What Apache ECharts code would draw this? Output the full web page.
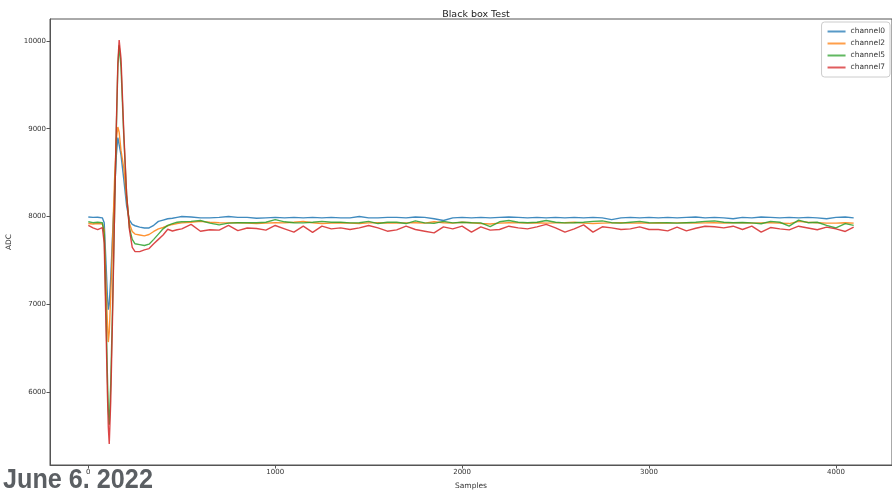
<!DOCTYPE html>
<html>
<head>
<meta charset="utf-8">
<title>Black box Test</title>
<script src="https://cdn.jsdelivr.net/npm/echarts@6/dist/echarts.min.js"></script>
<style>
    html, body { margin: 0; padding: 0; background: #fff; }
    #chart { width: 892px; height: 491px; }
</style>
</head>
<body>
<div id="chart"></div>
<script>
// sample index (x axis)
const samples = [
    0, 25, 50, 75, 85, 95, 102, 107, 112, 120,
    130, 140, 150, 158, 165, 175, 190, 205, 220, 235,
    250, 275, 300, 325, 350, 375, 400, 425, 450, 475,
    500,
    550, 600, 650, 700, 750, 800, 850, 900, 950, 1000,
    1050, 1100, 1150, 1200, 1250, 1300, 1350, 1400, 1450, 1500,
    1550, 1600, 1650, 1700, 1750, 1800, 1850, 1900, 1950, 2000,
    2050, 2100, 2150, 2200, 2250, 2300, 2350, 2400, 2450, 2500,
    2550, 2600, 2650, 2700, 2750, 2800, 2850, 2900, 2950, 3000,
    3050, 3100, 3150, 3200, 3250, 3300, 3350, 3400, 3450, 3500,
    3550, 3600, 3650, 3700, 3750, 3800, 3850, 3900, 3950, 4000,
    4050, 4095
];

// ADC readings per channel, same length as samples
const channel0 = [
    7995, 7990, 7992, 7985, 7930, 7450, 7100, 6940, 7000, 7300,
    7800, 8250, 8700, 8900, 8900, 8700, 8420, 8120, 7960, 7910,
    7895, 7880, 7870, 7870, 7900, 7945, 7960, 7975, 7980, 7990,
    8000,
    7995, 7985, 7985, 7990, 8000, 7990, 7990, 7980, 7985, 7990,
    7985, 7990, 7985, 7990, 7985, 7990, 7985, 7985, 8000, 7985,
    7985, 7990, 7990, 7985, 7995, 7990, 7975, 7955, 7985, 7990,
    7985, 7990, 7985, 7990, 7995, 7990, 7985, 7990, 7985, 7990,
    7985, 7990, 7985, 7990, 7985, 7965, 7985, 7990, 7985, 7990,
    7985, 7990, 7985, 7990, 7995, 7985, 7990, 7985, 7975, 7990,
    7985, 7995, 7990, 7985, 7990, 7985, 7990, 7985, 7975, 7990,
    7995, 7985
];
const channel2 = [
    7920, 7915, 7920, 7915, 7850, 7200, 6800, 6570, 6680, 7100,
    7750, 8400, 8880, 9020, 8960, 8750, 8550, 8200, 7920, 7830,
    7800, 7790, 7780, 7795, 7830, 7860, 7875, 7895, 7910, 7920,
    7928,
    7935, 7945, 7935, 7930, 7928, 7930, 7925, 7920, 7925, 7930,
    7928, 7935, 7945, 7930, 7920, 7925, 7930, 7925, 7920, 7928,
    7930, 7925, 7925, 7928, 7930, 7925, 7940, 7930, 7925, 7935,
    7930, 7920, 7915, 7925, 7930, 7928, 7925, 7930, 7925, 7928,
    7930, 7935, 7925, 7920, 7925, 7928, 7930, 7925, 7928, 7925,
    7930, 7925, 7928, 7930, 7925, 7928, 7930, 7925, 7928, 7930,
    7925, 7928, 7930, 7925, 7920, 7945, 7935, 7930, 7925, 7925,
    7930, 7925
];
const channel5 = [
    7940, 7930, 7935, 7930, 7800, 6900, 6200, 5800, 5630, 6100,
    7000, 8000, 9000, 9700, 9950, 9700, 8900, 8250, 7870, 7740,
    7690, 7680, 7670, 7685, 7740, 7800, 7860, 7900, 7920, 7935,
    7940,
    7945, 7955, 7925, 7905, 7925, 7930, 7930, 7930, 7935, 7965,
    7940, 7930, 7928, 7935, 7945, 7935, 7935, 7928, 7930, 7945,
    7920, 7935, 7935, 7920, 7950, 7928, 7922, 7945, 7928, 7935,
    7930, 7928, 7885, 7940, 7955, 7935, 7930, 7935, 7955, 7935,
    7928, 7930, 7935, 7945, 7950, 7930, 7925, 7935, 7945, 7930,
    7928, 7930, 7925, 7930, 7935, 7945, 7950, 7935, 7930, 7932,
    7928, 7918, 7945, 7935, 7890, 7960, 7930, 7935, 7900, 7870,
    7920, 7900
];
const channel7 = [
    7900, 7870, 7850, 7875, 7700, 6700, 6000, 5600, 5410, 5900,
    6900, 8000, 9050, 9750, 10010, 9800, 8950, 8250, 7850, 7650,
    7600, 7600, 7620, 7635, 7690, 7740, 7790, 7855, 7835, 7850,
    7860,
    7910, 7833, 7850, 7845, 7900, 7840, 7870, 7864, 7845, 7898,
    7860, 7822, 7890, 7820, 7890, 7860, 7871, 7852, 7871, 7898,
    7871, 7833, 7848, 7890, 7852, 7833, 7814, 7883, 7860, 7890,
    7822, 7883, 7845, 7852, 7890, 7871, 7860, 7883, 7910, 7871,
    7822, 7860, 7905, 7822, 7883, 7871, 7852, 7860, 7883, 7852,
    7852, 7837, 7879, 7837, 7867, 7890, 7883, 7871, 7890, 7852,
    7890, 7822, 7875, 7860, 7848, 7890, 7870, 7850, 7880, 7860,
    7830, 7880
];

const seriesNames = ['channel0', 'channel2', 'channel5', 'channel7'];
const seriesValues = [channel0, channel2, channel5, channel7];
const seriesColors = ['#1f77b4', '#ff7f0e', '#2ca02c', '#d62728'];

const xTicks = [0, 1000, 2000, 3000, 4000];
const yTicks = [6000, 7000, 8000, 9000, 10000];

const chart = echarts.init(document.getElementById('chart'), null, { renderer: 'canvas' });

const axisColor = '#555';
const fontFamily = '"DejaVu Sans", sans-serif';

const option = {
    animation: false,
    backgroundColor: '#fff',
    title: {
        text: 'Black box Test',
        left: 471,
        textAlign: 'center',
        top: 5,
        textStyle: {
            color: '#222',
            fontSize: 9.5,
            fontWeight: 'normal',
            fontFamily: fontFamily
        }
    },
    legend: {
        orient: 'vertical',
        right: 2,
        top: 22,
        data: seriesNames,
        icon: 'rect',
        itemWidth: 18,
        itemHeight: 2,
        itemGap: 3,
        padding: [5, 5, 5, 6],
        borderColor: '#ccc',
        borderWidth: 1,
        borderRadius: 3,
        backgroundColor: 'rgba(255,255,255,0.8)',
        itemStyle: { opacity: 0.75 },
        textStyle: {
            color: '#333',
            fontSize: 7.5,
            lineHeight: 9,
            fontFamily: fontFamily
        }
    },
    grid: {
        left: 50,
        right: 0,
        top: 19,
        bottom: 26,
        outerBoundsMode: 'none',
        containLabel: false,
        show: true,
        borderColor: axisColor,
        borderWidth: 1
    },
    xAxis: {
        type: 'value',
        min: -205,
        max: 4300,
        name: 'Samples',
        nameLocation: 'middle',
        nameGap: 17,
        nameMoveOverlap: false,
        nameTextStyle: { color: '#333', fontSize: 7.5, fontFamily: fontFamily },
        axisLine: { show: true, onZero: false, lineStyle: { color: axisColor } },
        axisTick: { show: true, length: 3.5, customValues: xTicks, lineStyle: { color: axisColor } },
        axisLabel: {
            customValues: xTicks,
            formatter: v => String(v),
            color: '#333',
            fontSize: 7,
            margin: 4,
            fontFamily: fontFamily
        },
        splitLine: { show: false }
    },
    yAxis: {
        type: 'value',
        min: 5170,
        max: 10250,
        name: 'ADC',
        nameLocation: 'middle',
        nameGap: 37,
        nameMoveOverlap: false,
        nameTextStyle: { color: '#333', fontSize: 7.5, fontFamily: fontFamily },
        axisLine: { show: true, onZero: false, lineStyle: { color: axisColor } },
        axisTick: { show: true, length: 3.5, customValues: yTicks, lineStyle: { color: axisColor } },
        axisLabel: {
            customValues: yTicks,
            formatter: v => String(v),
            color: '#333',
            fontSize: 7,
            margin: 4,
            fontFamily: fontFamily
        },
        splitLine: { show: false }
    },
    graphic: [{
        type: 'text',
        left: 3,
        top: 466,
        scaleX: 0.9,
        style: {
            text: 'June 6. 2022',
            fill: '#5b5f63',
            font: 'bold 28px "Liberation Sans", sans-serif'
        }
    }],
    series: seriesNames.map((name, i) => ({
        name: name,
        type: 'line',
        data: samples.map((s, j) => [s, seriesValues[i][j]]),
        symbol: 'none',
        color: seriesColors[i],
        lineStyle: { color: seriesColors[i], width: 1.4, opacity: 0.85 },
        z: 2 + i
    }))
};

chart.setOption(option);
</script>
</body>
</html>
